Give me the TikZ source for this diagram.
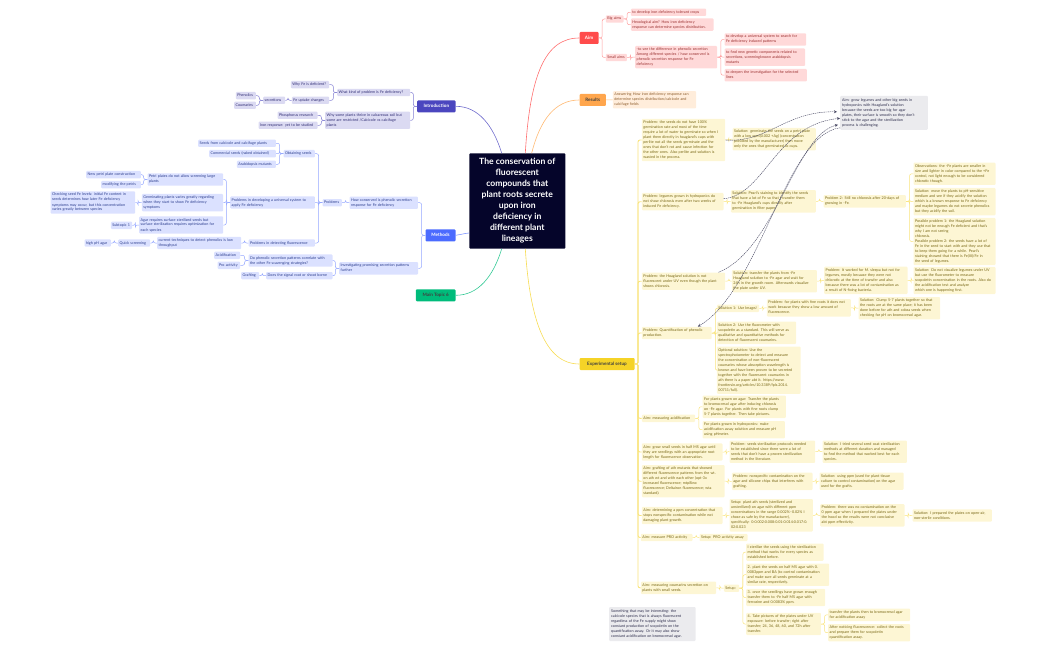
\documentclass[tikz,border=0pt]{standalone}
\usepackage{fontspec}
\setmainfont{Lato}
\definecolor{inkb}{HTML}{05052A}
\definecolor{introc}{HTML}{4B46BF}
\definecolor{methc}{HTML}{4B6BFF}
\definecolor{aimc}{HTML}{FF4B4B}
\definecolor{resc}{HTML}{FFA64D}
\definecolor{expc}{HTML}{F5D327}
\definecolor{topc}{HTML}{00BC7B}
\tikzset{w/.code={\pgfmathsetmacro\tw{#1-3}\tikzset{text width=\tw pt}}}
\tikzset{b/.style={anchor=west,rounded corners=1pt,inner xsep=1.5pt,inner ysep=1.2pt,align=left,
  font=\fontsize{3.7}{5}\selectfont,execute at begin node={\strut},execute at end node={\strut}}}
\tikzset{ib/.style={b,fill=introc!20,text=introc!60!black}}
\tikzset{mb/.style={b,fill=methc!20,text=methc!55!black}}
\tikzset{ab/.style={b,fill=aimc!21,text=aimc!60!black}}
\tikzset{rb/.style={b,fill=resc!20,text=resc!55!black}}
\tikzset{yb/.style={b,fill=expc!20,text=expc!48!black}}
\tikzset{gb/.style={b,fill=inkb!8,text=inkb!85}}
\tikzset{main/.style={anchor=west,rounded corners=1pt,inner sep=0pt,align=center,minimum height=12pt,
  font=\fontsize{4.6}{5}\selectfont\bfseries}}
\tikzset{cur/.style={line width=.6pt}}
\tikzset{dl/.style={inkb!75,line width=.4pt,dashed,dash pattern=on 1.4pt off .7pt}}
\begin{document}
\begin{tikzpicture}[x=1pt,y=-1pt]
  \useasboundingbox (0,0) rectangle (1050,650);
  % center and main topics
  \node[anchor=center,fill=inkb,text=white,rounded corners=1pt,inner sep=0pt,minimum width=96pt,minimum height=95.4pt,
    align=center,font=\fontsize{8.6}{11}\selectfont\bfseries] (title) at (517.3,201)
    {The conservation of\\fluorescent\\compounds that\\plant roots secrete\\upon iron\\deficiency in\\different plant\\lineages};
  \node[main,fill=aimc,text=white,minimum width=19pt] (aim) at (579.3,38) {Aim};
  \node[main,fill=resc,text=black!75,minimum width=26.4pt] (results) at (579.3,100) {Results};
  \node[main,fill=expc,text=black!75,minimum width=55pt] (exp) at (579.3,364) {Experimental setup};
  \node[main,fill=introc,text=white,minimum width=38.3pt] (intro) at (417,106.3) {Introduction};
  \node[main,fill=methc,text=white,minimum width=30pt] (meth) at (425.3,235.3) {Methods};
  \node[main,fill=topc,text=black!75,minimum width=39.6pt] (topic) at (415.7,295.3) {Main Topic 6};

  % aim
  \node[ab,w=17.6] (bigaims) at (605.7,19) {Big aims};
  \node[ab,w=21] (smallaims) at (605.7,57.5) {Small aims};
  \node[ab,w=75.3] (crops) at (630.7,12.3) {to develop iron deficiency tolerant crops};
  \node[ab,w=82.6] (hexo) at (630.7,24.7) {Hexological aim? How iron deficiency\\response can determine species distribution.};
  \node[ab,w=82] (diff) at (635,57.2) {-to see the difference in phenolic secretion\\Among different species / how conserved is\\phenolic secretion response for Fe\\deficiency};
  \node[ab,w=81.7] (univ) at (724.3,39.5) {to develop a universal system to search for\\Fe deficiency induced patterns};
  \node[ab,w=80.7] (genes) at (724.3,57.2) {to find new genetic components related to\\secretions, screeningknown arabidopsis\\mutants};
  \node[ab,w=82.4] (deepen) at (724.3,75.2) {to deepen the investigation for the selected\\lines};

  % results
  \node[rb,w=83.3] (answer) at (612.7,99.8) {Answering How iron deficiency response can\\determine species distribution/calcicole and\\calcifuge fields};

  % grey notes
  \node[gb,w=86.7,inner sep=2pt] (aimgrey) at (840,112.8) {Aim: grow legumes and other big seeds in\\hydroponics with Hoagland's solution\\because the seeds are too big for agar\\plates, their surface is smooth so they don't\\stick to the agar and the sterilization\\process is challenging.};
  \node[gb,w=85.3,inner sep=2pt] (notegrey) at (609,624) {Something that may be interesting: the\\calcicole species that is always fluorescent\\regardless of the Fe supply might show\\constant production of scopoletin on the\\quantification assay. Or it may also show\\constant acidification on bromocresol agar.};

  % experimental setup
  \node[yb,w=83.3] (pseeds) at (641.7,140) {Problem: the seeds do not have 100\%\\germination rate and most of the time\\require a lot of water to germinate so when I\\plant them directly in hoagland's cups with\\perlite not all the seeds germinate and the\\ones that don't rot and cause infection for\\the other ones. Also perlite and solution is\\wasted in the process.};
  \node[yb,w=83.4] (sgerm) at (732.3,139.2) {Solution: germinate the seeds on a petri plate\\with a low ppm(0.002 +Ag) (concentration\\provided by the manufacturer) then move\\only the ones that germinated to cups.};
  \node[yb,w=81.6] (plegumes) at (641.7,201.7) {Problem: legumes grown in hydroponics do\\not show chlorosis even after two weeks of\\induced Fe deficiency.};
  \node[yb,w=85] (spearl) at (730.7,201.3) {Solution: Pearl's staining to identify the seeds\\that have a lot of Fe so that I transfer them\\to -Fe Hoagland's cups directly after\\germination in filter paper.};
  \node[yb,w=82.4] (pstill) at (823.3,201.3) {Problem 2: Still no chlorosis after 20-days of\\growing in -Fe.};
  \node[yb,w=82] (obs) at (913.3,173.8) {Observations: the -Fe plants are smaller in\\size and lighter in color compared to the +Fe\\control, not light enough to be considered\\chlorotic though.};
  \node[yb,w=82] (smove) at (913.3,201.7) {Solution: move the plants to pH-sensitive\\medium and see if they acidify the solution\\which is a known response to Fe deficiency\\and maybe legumes do not secrete phenolics\\but they acidify the soil.};
  \node[yb,w=82] (poss) at (913.3,241.5) {Possible problem 1: the Hoagland solution\\might not be enough Fe deficient and that's\\why I am not seeing\\chlorosis.\\Possible problem 2: the seeds have a lot of\\Fe in the seed to start with and they use that\\to keep them going for a while. Pearl's\\staining showed that there is Fe(III)/Fe in\\the seed of legumes.};
  \node[yb,w=83.3] (phoag) at (641.7,281.2) {Problem: the Hoagland solution is not\\fluorescent under UV even though the plant\\shows chlorosis.};
  \node[yb,w=85] (strans) at (731.7,281.2) {Solution: transfer the plants from -Fe\\Hoagland solution to -Fe agar and wait for\\24h in the growth room. Afterwards visualize\\the plate under UV.};
  \node[yb,w=83.3] (pworked) at (824,280.3) {Problem: It worked for M. sleepa but not for\\legumes, mostly because they were not\\chlorotic at the time of transfer and also\\because there was a lot of contamination as\\a result of N-fixing bacteria.};
  \node[yb,w=82] (sdont) at (913.3,280.5) {Solution: Do not visualize legumes under UV\\but use the fluorometer to measure\\scopoletin concentration in the roots. Also do\\the acidification test and analyze\\which one is happening first.};
  \node[yb,w=69.7] (pquant) at (641.7,333) {Problem: Quantification of phenolic\\production.};
  \node[yb,w=42.3] (sol1) at (716.7,308.3) {Solution 1: Use ImageJ};
  \node[yb,w=84] (pfine) at (766.7,307.8) {Problem: for plants with fine roots it does not\\work because they show a low amount of\\fluorescence.};
  \node[yb,w=81.7] (sclump) at (858.3,308.2) {Solution: Clump 5-7 plants together so that\\the roots are at the same place; it has been\\done before for ath and cobza seeds when\\checking for pH on bromocresol agar.};
  \node[yb,w=79.3] (sol2) at (716.7,332.8) {Solution 2: Use the fluorometer with\\scopoletin as a standard. This will serve as\\qualitative and quantitative methods for\\detection of fluorescent coumarins.};
  \node[yb,w=83.6] (optional) at (716.7,370.2) {Optional solution: Use the\\spectrophotometer to detect and measure\\the concentration of non-fluorescent\\coumarins whose absorption wavelength is\\known and have been proven to be secreted\\together with the fluorescent coumarins in\\ath there is a paper abt it. https://www.\\frontiersin.org/articles/10.3389/fpls.2014.\\00711/full).};
  \node[yb,w=53.3] (aimacid) at (641.7,418.3) {Aim: measuring acidification};
  \node[yb,w=83.4] (onagar) at (702.3,406.8) {For plants grown on agar: Transfer the plants\\to bromocresol agar after inducing chlorosis\\on -Fe agar. For plants with fine roots clump\\5-7 plants together. Then take pictures.};
  \node[yb,w=82.4] (hydro) at (702.3,429.7) {For plants grown in hydroponics: make\\acidification assay solution and measure pH\\using pHmeter.};
  \node[yb,w=80.6] (aimgrow) at (641.7,452) {Aim: grow small seeds in half MS agar until\\they are seedlings with an appropriate root\\length for fluorescence observation.};
  \node[yb,w=85.7] (pster) at (729.3,451.7) {Problem: seeds sterilization protocols needed\\to be established since there were a lot of\\seeds that don't have a proven sterilization\\method in the literature.};
  \node[yb,w=84.4] (stried) at (822.3,451.7) {Solution: I tried several seed coat sterilization\\methods at different duration and managed\\to find the method that worked best for each\\species.};
  \node[yb,w=82.6] (aimgraft) at (641.7,481.2) {Aim: grafting of ath mutants that showed\\different fluorescence patterns from the wt.\\on ath wt and with each other (opt-3x\\increased fluorescence; mtp8ino:\\fluorescence; Deltairon fluorescence; wta\\standard).};
  \node[yb,w=80.6] (pnon) at (731.7,481.3) {Problem: nonspecific contamination on the\\agar and silicone chips that interferes with\\grafting.};
  \node[yb,w=84] (sppm) at (819.3,481.2) {Solution: using ppm (used for plant tissue\\culture to control contamination) on the agar\\used for the grafts.};
  \node[yb,w=80.6] (aimdet) at (641.7,515.5) {Aim: determining a ppm concentration that\\stops nonspecific contamination while not\\damaging plant growth.};
  \node[yb,w=83.4] (setplant) at (729.3,515.3) {Setup: plant ath seeds (sterilized and\\unsterilized) on agar with different ppm\\concentrations in the range 0.002\%--0.02\% I\\chose as safe by the manufacturer),\\specifically: 0:0.002:0.008:0.01:0.014:0.017:0.\\02:0.023};
  \node[yb,w=84.3] (pnocon) at (820,515.3) {Problem: there was no contamination on the\\0 ppm agar when I prepared the plates under\\the hood so the results were not conclusive\\abt ppm effectivity.};
  \node[yb,w=79.4] (sopen) at (912.3,515.5) {Solution: I prepared the plates on open-air,\\non-sterile conditions.};
  \node[yb,w=51.6] (aimpro) at (640.7,537.5) {Aim: measure PRO activity};
  \node[yb,w=48] (setpro) at (699.3,537.5) {Setup: PRO activity assay};
  \node[yb,w=75.3] (aimcou) at (640.7,587.8) {Aim: measuring coumarins secretion on\\plants with small seeds.};
  \node[yb,w=15.3] (setup) at (723.7,588.2) {Setup:};
  \node[yb,w=77.3] (step1) at (746,552.2) {I sterilize the seeds using the sterilization\\method that works for every species as\\established before.};
  \node[yb,w=83] (step2) at (746,574.7) {2. plant the seeds on half MS agar with 0.\\0083ppm and BA (to control contamination\\and make sure all seeds germinate at a\\similar rate, respectively.};
  \node[yb,w=79] (step3) at (746,597.5) {3. once the seedlings have grown enough\\transfer them to -Fe half MS agar with\\ferrozine and 0.0083\% ppm.};
  \node[yb,w=74.7] (step4) at (746,624) {4. Take pictures of the plates under UV\\exposure: before transfer; right after\\transfer; 24, 36, 48, 60, and 72h after\\transfer.};
  \node[yb,w=82] (tbromo) at (828,614.8) {transfer the plants then to bromocresol agar\\for acidification assay};
  \node[yb,w=82] (tafter) at (828,632.7) {After noticing fluorescence: collect the roots\\and prepare them for scopoletin\\quantification assay.};

  % introduction
  \node[ib,w=73] (whatkind) at (337,92.5) {What kind of problem is Fe deficiency?};
  \node[ib,w=38.3] (whyfe) at (290.7,84.7) {Why Fe is deficient?};
  \node[ib,w=37.3] (uptake) at (291.7,100.3) {Fe uptake changes};
  \node[ib,w=22] (secr) at (263,100.3) {secretions};
  \node[ib,w=20] (phen) at (235.7,95.7) {Phenolics};
  \node[ib,w=21.7] (couma) at (234,105.3) {Coumarins};
  \node[ib,w=85] (whysome) at (325,120.3) {Why some plants thrive in calcareous soil but\\some are restricted /Calcicole vs calcifuge\\plants};
  \node[ib,w=40] (phosph) at (277.3,115.3) {Phosphorus research};
  \node[ib,w=59] (ironres) at (258.3,125.3) {Iron response: yet to be studied};

  % methods
  \node[mb,w=68.4] (howcons) at (349.3,202.7) {How conserved is phenolic secretion\\response for Fe deficiency};
  \node[mb,w=19.4] (problems) at (322.3,202.7) {Problems};
  \node[mb,w=31.4] (obtain) at (283.3,153.7) {Obtaining seeds};
  \node[mb,w=77.7] (sfrom) at (198,143.3) {Seeds from calcicole and calcifuge plants};
  \node[mb,w=66.7] (scomm) at (209,153.7) {Commercial seeds (naked obtained)};
  \node[mb,w=39] (sarab) at (236.7,164.3) {Arabidopsis mutants};
  \node[mb,w=84.7] (pdevel) at (230,202.5) {Problems in developing a universal system to\\apply Fe deficiency};
  \node[mb,w=75.7] (petri) at (147.3,179.5) {Petri plates do not allow screening large\\plants};
  \node[mb,w=54.7] (newpetri) at (86,174.7) {New petri plate construction};
  \node[mb,w=39.7] (modif) at (101,184.7) {modifying the petris};
  \node[mb,w=81.3] (germ) at (141.7,202.7) {Germinating plants varies greatly regarding\\when they start to show Fe deficiency\\symptoms};
  \node[mb,w=84.7] (check) at (50.3,202.5) {Checking seed Fe levels: initial Fe content in\\seeds determines how later Fe deficiency\\symptoms may occur, but this concentration\\varies greatly between species};
  \node[mb,w=84] (agar) at (139,225) {Agar requires surface sterilized seeds but\\surface sterilization requires optimization for\\each species};
  \node[mb,w=21.3] (subt) at (110.7,225.3) {Subtopic 1};
  \node[mb,w=66.4] (pdetect) at (248.3,243) {Problems in detecting fluorescence};
  \node[mb,w=84] (current) at (157,243) {current techniques to detect phenolics is low\\throughput};
  \node[mb,w=32] (quick) at (118,243) {Quick screening};
  \node[mb,w=26.4] (highph) at (84.3,243) {high pH agar};
  \node[mb,w=79] (invest) at (339,268.3) {Investigating promising secretion patterns\\further};
  \node[mb,w=84] (dophen) at (248.3,260.5) {Do phenolic secretion patterns correlate with\\the other Fe scavenging strategies?};
  \node[mb,w=26] (acidif) at (214,255.3) {Acidification};
  \node[mb,w=22.7] (proact) at (217.3,265.3) {Pro activity};
  \node[mb,w=66.3] (dosig) at (266,275.7) {Does the signal root or shoot borne};
  \node[mb,w=18] (graft) at (241,275.7) {Grafting};

  % connectors
  \foreach \a/\b in {aim/bigaims,aim/smallaims,bigaims/crops,bigaims/hexo,smallaims/diff,diff/univ,diff/genes,diff/deepen}
    \draw[aimc!55,line width=.5pt,rounded corners=2pt] (\a.east) -- ++(3.5,0) |- (\b.west);
  \draw[resc!70,line width=.5pt] (results.east) -- (answer.west);
  \foreach \a/\b in {pseeds/sgerm,plegumes/spearl,spearl/pstill,pstill/obs,pstill/smove,pstill/poss,phoag/strans,strans/pworked,pworked/sdont,pquant/sol1,pquant/sol2,pquant/optional,sol1/pfine,pfine/sclump,aimacid/onagar,aimacid/hydro,aimgrow/pster,pster/stried,aimgraft/pnon,pnon/sppm,aimdet/setplant,setplant/pnocon,pnocon/sopen,aimpro/setpro,aimcou/setup,setup/step1,setup/step2,setup/step3,setup/step4,step4/tbromo,step4/tafter}
    \draw[expc!60,line width=.5pt,rounded corners=2pt] (\a.east) -- ++(3.5,0) |- (\b.west);
  \foreach \b in {pseeds,plegumes,phoag,pquant,aimacid,aimgrow,aimgraft,aimdet,aimpro,aimcou}
    \draw[expc!60,line width=.9pt,rounded corners=2pt] (exp.east) -- ++(3.3,0) |- (\b.west);
  \foreach \a/\b in {intro/whatkind,intro/whysome,whatkind/whyfe,whatkind/uptake,uptake/secr,secr/phen,secr/couma,whysome/phosph,whysome/ironres}
    \draw[introc!70,line width=.5pt,rounded corners=2pt] (\a.west) -- ++(-3.7,0) |- (\b.east);
  \foreach \a/\b in {meth/howcons,meth/invest,howcons/problems,problems/obtain,problems/pdevel,problems/pdetect,obtain/sfrom,obtain/scomm,obtain/sarab,pdevel/petri,pdevel/germ,pdevel/agar,petri/newpetri,petri/modif,germ/check,agar/subt,pdetect/current,current/quick,quick/highph,invest/dophen,invest/dosig,dophen/acidif,dophen/proact,dosig/graft}
    \draw[methc!60,line width=.5pt,rounded corners=2pt] (\a.west) -- ++(-3.7,0) |- (\b.east);
  \draw[aimc!80,cur] ([xshift=8pt]title.north) .. controls (530,75) and (545,38) .. (aim.west);
  \draw[resc!80,cur] ([xshift=14.4pt]title.north) .. controls (540,120) and (555,100) .. (results.west);
  \draw[expc!80,cur] ([xshift=8pt]title.south) .. controls (530,320) and (545,364) .. (exp.west);
  \draw[introc!80,cur] ([xshift=-15.6pt]title.north) .. controls (493,125) and (478,106.3) .. (intro.east);
  \draw[methc!70,cur] ([yshift=-32pt]title.west) .. controls (463,233.5) and (460,235) .. (meth.east);
  \draw[topc!80,cur] ([xshift=-15.6pt]title.south) .. controls (493,277) and (478,295.3) .. (topic.east);
  % dashed links to the grey note
  \draw[dl,-stealth] (pseeds.east) .. controls (768,143) and (785,111) .. ([xshift=-3pt,yshift=1pt]aimgrey.west);
  \draw[dl,-stealth] ([yshift=3pt]plegumes.east) .. controls (765,195) and (775,125) .. ([yshift=-5.5pt]aimgrey.west);
  \draw[dl,-stealth] ([xshift=-7pt]phoag.north east) .. controls (775,250) and (795,135) .. ([xshift=-2pt,yshift=-12pt]aimgrey.west);
  \draw[dl,-stealth] ([yshift=-15pt]aimgrey.west) .. controls (785,135) and (760,290) .. ([xshift=-14pt]pquant.north east);
\end{tikzpicture}
\end{document}
